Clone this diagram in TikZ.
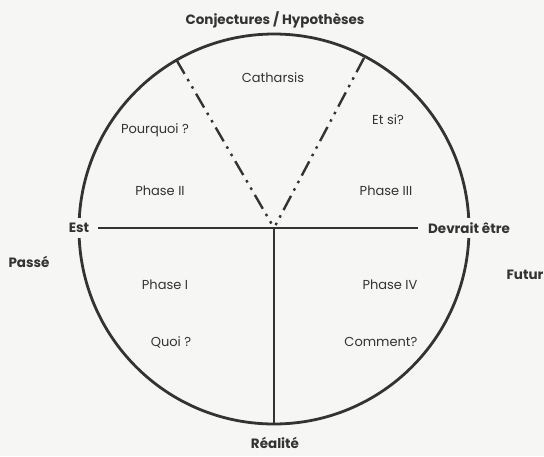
\documentclass[tikz,border=0pt]{standalone}
\usepackage{fontspec}
\setmainfont{Poppins}
\definecolor{ink}{rgb}{0.2,0.2,0.2}
\definecolor{paper}{rgb}{0.965,0.965,0.955}
\begin{document}
\begin{tikzpicture}[x=1pt,y=-1pt,
  lbl/.style={text=ink,font=\fontsize{13}{15}\selectfont,inner sep=0pt},
  blbl/.style={text=ink,font=\fontsize{13.5}{16}\selectfont\bfseries,inner sep=0pt},
  cutlbl/.style={blbl,fill=paper,inner xsep=1pt,inner ysep=5pt},
  ddline/.style={draw=ink,line width=2.4pt,dash pattern=on 16pt off 6pt on 2.5pt off 6pt on 2.5pt off 6pt}]
\fill[paper] (0,0) rectangle (544,456);
\useasboundingbox (0,0) rectangle (544,456);
\coordinate (c) at (274,229);
\draw[ink,line width=2.8pt] (c) circle [radius=195];
\coordinate (bot) at (274,424);
\node[blbl] (conj) at (275,20) {Conjectures / Hypothèses};
\node[cutlbl] (est) at (79,228) {Est};
\node[cutlbl] (dev) at (469,228) {Devrait être};
\node[blbl] (passe) at (29,262) {Passé};
\node[blbl] (futur) at (525,275) {Futur};
\node[blbl] (real) at (275,443) {Réalité};
\node[lbl] (cath) at (273,78) {Catharsis};
\node[lbl] (pq) at (155,130) {Pourquoi ?};
\node[lbl] (etsi) at (388,120) {Et si?};
\node[lbl] (p2) at (160,191) {Phase II};
\node[lbl] (p3) at (386,191) {Phase III};
\node[lbl] (p1) at (165,285) {Phase I};
\node[lbl] (p4) at (390,285) {Phase IV};
\node[lbl] (quoi) at (171,342) {Quoi ?};
\node[lbl] (comm) at (381,342) {Comment?};
\coordinate (hl) at (98,228);
\coordinate (hr) at (418,228);
\coordinate (ctr) at (274,228);
\coordinate (tl) at (176.5,60);
\coordinate (tr) at (364,58);
\draw[ink,line width=2.8pt] (hl) -- (hr);
\draw[ink,line width=2.2pt] (ctr) -- (bot);
\draw[ddline] (tl) -- (ctr);
\draw[ddline] (tr) -- (ctr);
\end{tikzpicture}
\end{document}
